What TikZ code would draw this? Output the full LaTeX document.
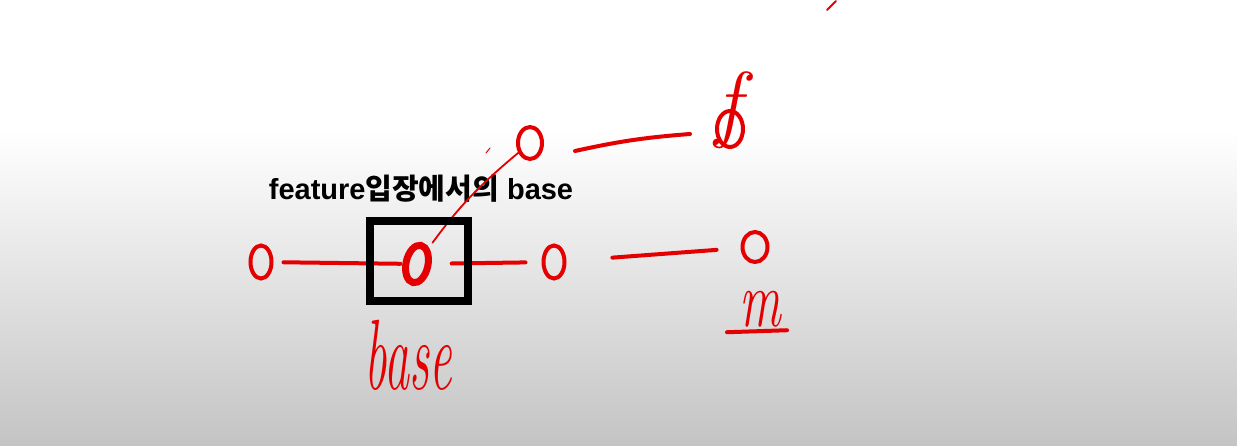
\documentclass[tikz,border=0pt]{standalone}
\usepackage{fontspec}
\newfontfamily\krfont{Noto Sans CJK KR}
\newfontfamily\latinfont{Liberation Sans}
\usetikzlibrary{shapes.geometric}
\definecolor{inkred}{RGB}{228,0,0}
\definecolor{bggray}{RGB}{196,196,196}

\begin{document}
\begin{tikzpicture}[x=1pt,y=-1pt,
    dot/.style={ellipse, draw=inkred, line width=4pt, minimum width=21pt, minimum height=33pt, inner sep=0pt},
    stroke/.style={draw=inkred, line width=4pt, line cap=round},
    thinstroke/.style={draw=inkred, line width=1.8pt, line cap=round},
    scrawl/.style={text=inkred, inner sep=0pt, font=\itshape}]
    \useasboundingbox (0,0) rectangle (1237,446);
    % background
    \fill[white] (0,0) rectangle (1237,130);
    \shade[top color=white, bottom color=bggray] (0,130) rectangle (1237,446);

    % nodes on the lower row
    \node[dot] (left) at (261,262) {};
    \node[dot, line width=7pt, minimum width=22pt, minimum height=38pt, rotate=-12] (base) at (417,264) {};
    \node[dot] (mid) at (554,262) {};
    \node[dot, minimum width=25pt, minimum height=30pt] (right) at (755,247) {};

    % nodes on the upper row
    \node[dot, minimum width=24pt, minimum height=32pt] (up) at (530,143) {};
    \node[dot, minimum width=26pt, minimum height=36pt] (top) at (730,129) {};

    % connectors
    \draw[stroke, shorten <=10pt, shorten >=2pt] (left) -- (base);
    \draw[stroke, shorten <=20pt, shorten >=16pt] (base) -- (mid);
    \draw[stroke, shorten <=46pt, shorten >=24pt] (mid) -- (right);
    \draw[stroke] ([shift={(31,8)}]up.east) to[bend left=4] ([shift={(-25,5)}]top.west);

    % stray marks
    \coordinate (tickA) at (836,1);
    \coordinate (tickB) at (827,10);
    \draw[thinstroke] (tickA) -- (tickB);
    \coordinate (dashA) at (490,148);
    \coordinate (dashB) at (486,153);
    \draw[thinstroke, line width=1pt] (dashA) -- (dashB);

    % labels
    \node[font=\bfseries\fontsize{29}{29}\selectfont, inner sep=0pt] (title) at (421,189)
        {{\latinfont feature}{\krfont 입장에서의}{\latinfont\ base}};
    \node[scrawl] (baselabel) at (408,355) {\scalebox{0.5}[1]{\fontsize{100}{100}\selectfont base}};
    \node[scrawl] (mlabel) at (760,309) {\scalebox{0.65}[1]{\fontsize{80}{80}\selectfont m}};
    \draw[stroke, line width=4pt] ([xshift=-12pt,yshift=-5pt]mlabel.south west) -- ([xshift=6pt,yshift=-3pt]mlabel.south east);
    \node[scrawl] (flabel) at (728,110) {\fontsize{85}{85}\selectfont f};

    % line from the base node up, over the title
    \draw[thinstroke, shorten <=6pt, shorten >=-2pt] (base) to[bend left=7] (up);

    % box round the base node
    \node[draw=black, line width=8pt, minimum width=98pt, minimum height=80pt, inner sep=0pt] (basebox) at (419,261) {};
\end{tikzpicture}
\end{document}
